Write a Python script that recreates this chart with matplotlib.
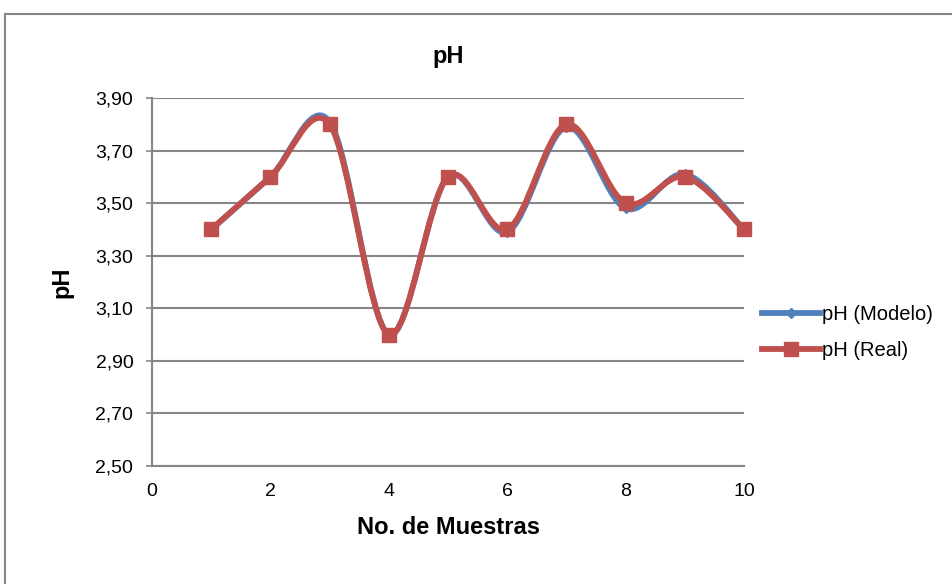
import matplotlib.pyplot as plt
import numpy as np
from matplotlib.path import Path
from matplotlib.patches import PathPatch, Rectangle
from matplotlib.lines import Line2D
from matplotlib.ticker import FuncFormatter

plt.rcParams['font.family'] = ['Liberation Sans', 'DejaVu Sans']

# datos
muestras = [1, 2, 3, 4, 5, 6, 7, 8, 9, 10]
ph_modelo = [3.40, 3.60, 3.81, 3.00, 3.60, 3.39, 3.79, 3.48, 3.61, 3.40]
ph_real = [3.40, 3.60, 3.80, 3.00, 3.60, 3.40, 3.80, 3.50, 3.60, 3.40]
x_ticks = [0, 2, 4, 6, 8, 10]
y_ticks = [2.50, 2.70, 2.90, 3.10, 3.30, 3.50, 3.70, 3.90]

azul = '#4F81BD'
rojo = '#C0504D'
gris = '#868686'


def curva_suave(x, y):
    # linea suavizada tipo Excel (bezier cubica)
    p = np.column_stack([x, y]).astype(float)
    n = len(p)
    verts = [p[0]]
    codes = [Path.MOVETO]
    for i in range(n - 1):
        p0 = p[i - 1] if i > 0 else p[i]
        p3 = p[i + 2] if i + 2 < n else p[i + 1]
        c1 = p[i] + (p[i + 1] - p0) / 6
        c2 = p[i + 1] - (p3 - p[i]) / 6
        verts += [c1, c2, p[i + 1]]
        codes += [Path.CURVE4] * 3
    return Path(verts, codes)


fig = plt.figure(figsize=(9.53, 5.84), dpi=100)
ax = fig.add_axes([0.1595, 0.2021, 0.6212, 0.6301])

ax.add_patch(PathPatch(curva_suave(muestras, ph_modelo), fill=False,
                       edgecolor=azul, lw=4.2, capstyle='round', zorder=3))
ax.plot(muestras, ph_modelo, linestyle='none', marker='D', ms=5,
        color=azul, zorder=3)
ax.add_patch(PathPatch(curva_suave(muestras, ph_real), fill=False,
                       edgecolor=rojo, lw=4.2, capstyle='round', zorder=4))
ax.plot(muestras, ph_real, linestyle='none', marker='s', ms=10,
        color=rojo, zorder=5, clip_on=False)

ax.set_xlim(0, 10)
ax.set_ylim(2.50, 3.90)
ax.set_xticks(x_ticks)
ax.set_yticks(y_ticks)
ax.yaxis.set_major_formatter(FuncFormatter(lambda v, _: f'{v:.2f}'.replace('.', ',')))
ax.tick_params(axis='both', labelsize=14, colors=gris, labelcolor='black')
ax.tick_params(axis='x', length=0, pad=12.5)
ax.tick_params(axis='y', length=4, pad=9.5, width=1.2)

ax.grid(axis='y', color=gris, lw=1.5)
ax.set_axisbelow(True)
for s in ['top', 'right']:
    ax.spines[s].set_visible(False)
for s in ['left', 'bottom']:
    ax.spines[s].set_color(gris)
    ax.spines[s].set_linewidth(1.5)

ax.set_title('pH', fontsize=17, fontweight='bold', pad=25)
ax.set_xlabel('No. de Muestras', fontsize=17, fontweight='bold', labelpad=11)
ax.set_ylabel('pH', fontsize=17, fontweight='bold', labelpad=16)

handles = [
    Line2D([], [], color=azul, lw=4.2, marker='D', ms=5),
    Line2D([], [], color=rojo, lw=4.2, marker='s', ms=10),
]
fig.legend(handles, ['pH (Modelo)', 'pH (Real)'], loc='center left',
           bbox_to_anchor=(0.781, 0.431), frameon=False, fontsize=14.5,
           handlelength=2.85, handletextpad=0.1, labelspacing=0.85)

# marco del grafico
fig.add_artist(Rectangle((5 / 953, -0.1), 1.1, 1.1 - 14 / 584,
                         transform=fig.transFigure, fill=False,
                         edgecolor=gris, lw=1.5))

plt.savefig('out.png', dpi=100)
